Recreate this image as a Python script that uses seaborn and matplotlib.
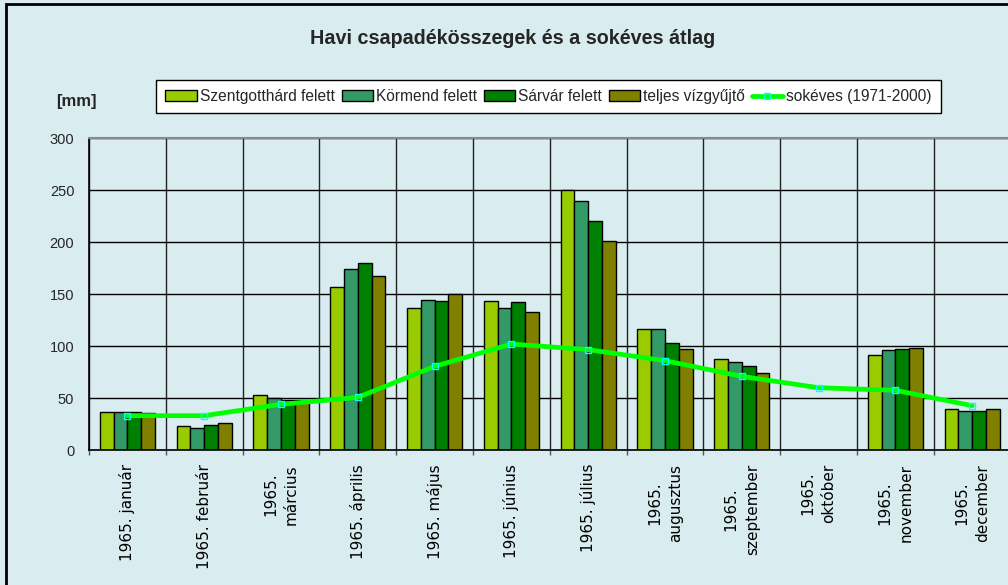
import numpy as np
import pandas as pd
import matplotlib
matplotlib.use("Agg")
import matplotlib.pyplot as plt
from matplotlib.patches import Rectangle, Patch
from matplotlib.lines import Line2D
import seaborn as sns

months = ["1965. január", "1965. február", "1965.\nmárcius", "1965. április",
          "1965. május", "1965. június", "1965. július", "1965.\naugusztus",
          "1965.\nszeptember", "1965.\noktóber", "1965.\nnovember", "1965.\ndecember"]
series_names = ["Szentgotthárd felett", "Körmend felett", "Sárvár felett", "teljes vízgyűjtő"]
szentgotthard = [36.2, 22.8, 52.6, 156.4, 136.2, 142.9, 250.0, 116.0, 87.5, np.nan, 91.7, 39.1]
kormend = [36.2, 21.2, 49.7, 174.0, 144.6, 136.2, 239.4, 116.0, 84.9, np.nan, 95.8, 37.5]
sarvar = [36.2, 24.0, 48.4, 179.5, 142.9, 142.0, 220.2, 102.6, 80.8, np.nan, 97.4, 37.5]
teljes = [35.3, 25.6, 48.4, 167.6, 150.0, 132.4, 201.3, 97.1, 74.0, np.nan, 98.4, 39.1]
longterm_name = "sokéves (1971-2000)"
longterm = [33.0, 33.0, 43.9, 50.6, 80.4, 101.9, 96.5, 85.9, 70.8, 59.9, 57.4, 42.6]
yticks = [0, 50, 100, 150, 200, 250, 300]

colors = ["#99CC00", "#339966", "#008000", "#808000"]
bg = "#D9ECEF"

sns.set_style("white")
plt.rcParams["font.family"] = ["Liberation Sans", "DejaVu Sans"]

rows = []
for name, vals in zip(series_names, [szentgotthard, kormend, sarvar, teljes]):
    for m, v in zip(months, vals):
        rows.append({"month": m, "series": name, "value": v})
df = pd.DataFrame(rows).dropna()

fig = plt.figure(figsize=(10.08, 5.85), dpi=100)
fig.patch.set_facecolor(bg)
ax = fig.add_axes([89 / 1008, 135 / 585, 921.6 / 1008, 312 / 585])
ax.set_facecolor(bg)

sns.barplot(data=df, x="month", y="value", hue="series", order=months,
            hue_order=series_names, palette=colors, saturation=1, width=0.72, gap=0,
            edgecolor="black", linewidth=1, ax=ax, legend=False, errorbar=None)

sns.lineplot(x=np.arange(len(months)), y=longterm, color="#00FF00", linewidth=3.4,
             marker="s", markersize=4, markerfacecolor="none",
             markeredgecolor="#00FFFF", markeredgewidth=1, ax=ax, zorder=5)

ax.set_xlim(-0.5, len(months) - 0.5)
ax.set_ylim(0, 300)
ax.set_yticks(yticks)
ax.set_yticklabels([str(t) for t in yticks], fontsize=10.5)
ax.set_xticks(np.arange(len(months)))
ax.set_xticklabels([])
ax.set_xticks(np.arange(len(months) + 1) - 0.5, minor=True)
ax.set_xlabel("")
ax.set_ylabel("")

for i, lab in enumerate(months):
    ax.text(i, -14 / 1.04, lab, rotation=90, ha="center", va="top",
            multialignment="center", fontsize=11, family="DejaVu Sans",
            color="black", linespacing=1.5)

ax.tick_params(axis="x", which="major", length=0)
ax.tick_params(axis="x", which="minor", length=3.6, width=1, color="#555555", direction="out")
ax.tick_params(axis="y", which="major", length=3.6, width=1, color="black", direction="out", pad=7)
ax.xaxis.set_tick_params(which="minor", bottom=True)
ax.grid(axis="y", which="major", color="black", linewidth=1)
ax.grid(axis="x", which="minor", color="#222222", linewidth=1)
ax.grid(axis="x", which="major", visible=False)
ax.set_axisbelow(True)
for s in ["left", "bottom"]:
    ax.spines[s].set_color("black")
    ax.spines[s].set_linewidth(1.2)
    ax.spines[s].set_visible(True)
ax.spines["top"].set_color("#888888")
ax.spines["top"].set_linewidth(1.5)
ax.spines["top"].set_visible(True)
ax.spines["right"].set_visible(False)
ax.spines["bottom"].set_zorder(6)

fig.text(513 / 1008, 1 - 38 / 585, "Havi csapadékösszegek és a sokéves átlag",
         ha="center", va="center", fontsize=14.2, fontweight="bold")
fig.text(76 / 1008, 1 - 101 / 585, "[mm]", ha="center", va="center",
         fontsize=12, fontweight="bold")

handles = [Patch(facecolor=c, edgecolor="black", linewidth=1) for c in colors]
handles.append(Line2D([], [], color="#00FF00", linewidth=3.4, marker="s", markersize=4,
                      markerfacecolor="none", markeredgecolor="#00FFFF"))
leg = fig.legend(handles, series_names + [longterm_name], loc="center",
                 bbox_to_anchor=(548.5 / 1008, 1 - 96.5 / 585), ncol=5, fontsize=11.2,
                 frameon=True, fancybox=False, edgecolor="black", facecolor="white",
                 framealpha=1, handlelength=2.0, handleheight=0.7, handletextpad=0.2,
                 columnspacing=0.45, borderpad=0.6, borderaxespad=0)
leg.get_frame().set_linewidth(1)

fig.patches.append(Rectangle((6 / 1008, -0.1), 1.2, 1.1 - 4 / 585, transform=fig.transFigure,
                             fill=False, edgecolor="black", linewidth=2, zorder=0))

fig.savefig("out.png", dpi=100, facecolor=bg)
